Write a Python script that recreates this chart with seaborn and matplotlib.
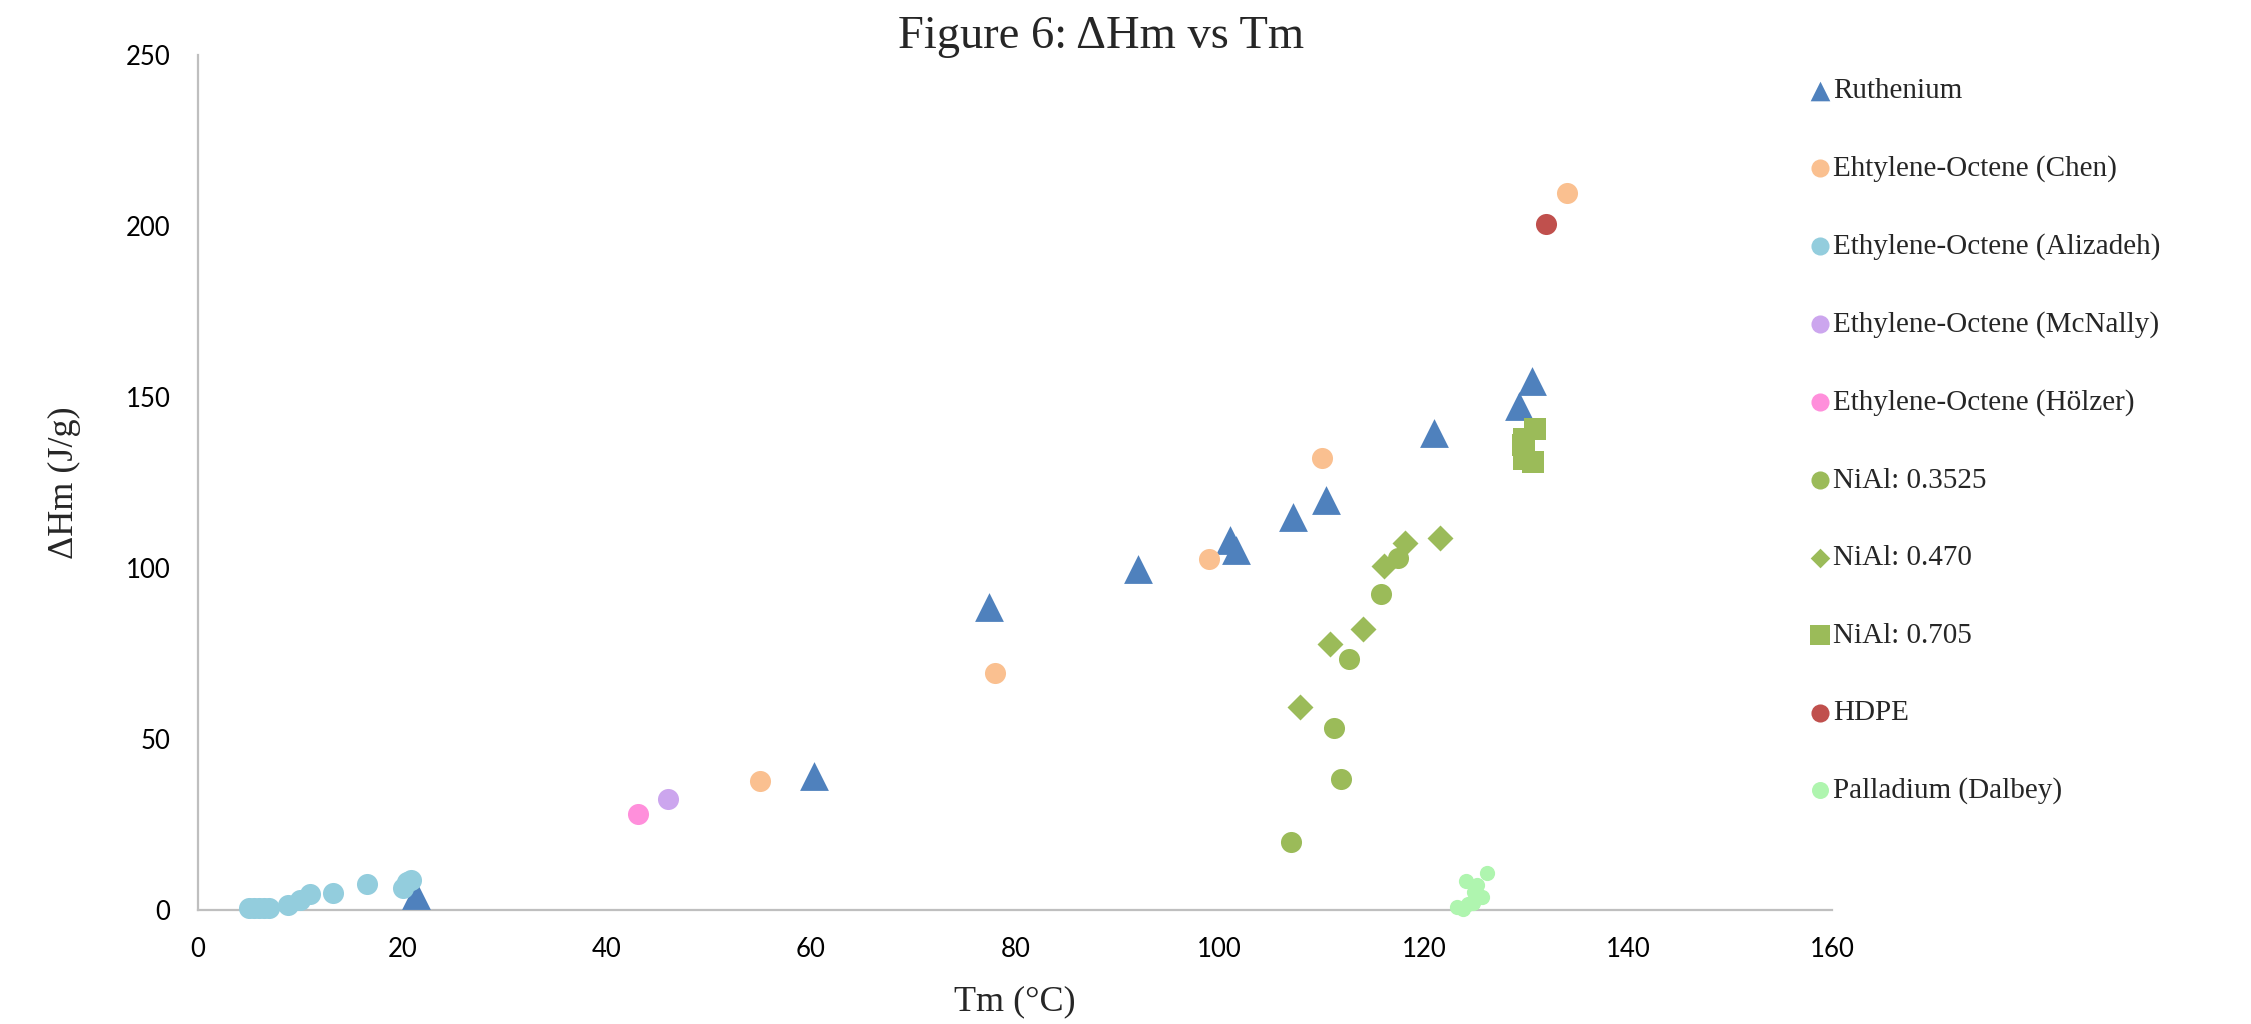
import numpy as np
import pandas as pd
import matplotlib
matplotlib.use('Agg')
import matplotlib.pyplot as plt
import seaborn as sns

sns.set_style('white')
plt.rcParams['font.family'] = ['Liberation Serif', 'DejaVu Serif']

# 数据
ru_x = [21.3, 60.3, 77.4, 92.0, 101.0, 101.6, 107.2, 110.4, 121.0, 129.3, 130.6]
ru_y = [4.4, 39.4, 88.6, 99.9, 108.4, 105.5, 114.9, 119.9, 139.5, 147.5, 154.9]

chen_x = [55.0, 78.0, 99.0, 110.0, 134.0]
chen_y = [37.9, 69.3, 102.6, 132.2, 209.7]

ali_x = [5.0, 5.5, 6.0, 6.5, 6.9, 8.8, 10.0, 11.0, 13.2, 16.5, 20.1, 20.5, 20.8]
ali_y = [0.6, 0.6, 0.7, 0.7, 0.7, 1.7, 2.9, 4.9, 5.2, 7.8, 6.5, 8.4, 8.8]

mcnally_x = [46.0]
mcnally_y = [32.5]

holzer_x = [43.1]
holzer_y = [28.3]

nial1_x = [107.0, 111.2, 111.9, 112.7, 115.8, 117.5]
nial1_y = [20.0, 53.3, 38.3, 73.5, 92.6, 102.9]

nial2_x = [107.9, 110.8, 114.1, 116.1, 118.2, 121.6]
nial2_y = [59.4, 77.9, 82.3, 100.8, 107.3, 108.9]

nial3_x = [129.7, 129.8, 129.8, 130.7, 130.9]
nial3_y = [136.1, 137.9, 132.0, 131.1, 140.8]

hdpe_x = [132.0]
hdpe_y = [200.8]

pd_x = [123.3, 123.8, 124.3, 124.8, 125.7, 124.9, 125.2, 124.1, 126.2]
pd_y = [1.0, 0.5, 1.8, 2.2, 3.8, 5.5, 7.3, 8.5, 11.0]

series = [
    ('Ruthenium', ru_x, ru_y, '^', '#4F81BD', 430, 200),
    ('Ehtylene-Octene (Chen)', chen_x, chen_y, 'o', '#FAC090', 230, 170),
    ('Ethylene-Octene (Alizadeh)', ali_x, ali_y, 'o', '#93CDDD', 230, 170),
    ('Ethylene-Octene (McNally)', mcnally_x, mcnally_y, 'o', '#CCA6EE', 230, 170),
    ('Ethylene-Octene (Hölzer)', holzer_x, holzer_y, 'o', '#FF8FDB', 230, 170),
    ('NiAl: 0.3525', nial1_x, nial1_y, 'o', '#9BBB59', 230, 170),
    ('NiAl: 0.470', nial2_x, nial2_y, 'D', '#9BBB59', 175, 100),
    ('NiAl: 0.705', nial3_x, nial3_y, 's', '#9BBB59', 250, 200),
    ('HDPE', hdpe_x, hdpe_y, 'o', '#C0504D', 230, 170),
    ('Palladium (Dalbey)', pd_x, pd_y, 'o', '#AFF5AF', 120, 150),
]

fig = plt.figure(figsize=(22.51, 10.24), dpi=100)
ax = fig.add_axes([0.088, 0.111, 0.726, 0.835])

for name, xs, ys, mk, col, size, _ in series:
    sns.scatterplot(x=xs, y=ys, marker=mk, color=col, s=size, linewidth=0,
                    label=name, ax=ax, clip_on=False, zorder=3)

ax.set_xlim(0, 160)
ax.set_ylim(0, 250)
ax.set_xticks(range(0, 161, 20))
ax.set_yticks(range(0, 251, 50))
for lab in ax.get_xticklabels() + ax.get_yticklabels():
    lab.set_family(['Lato', 'DejaVu Sans'])
    lab.set_fontsize(18.5)
ax.tick_params(axis='both', length=0, colors='black')
ax.tick_params(axis='x', pad=19)
ax.tick_params(axis='y', pad=20)

for s in ['top', 'right']:
    ax.spines[s].set_visible(False)
for s in ['left', 'bottom']:
    ax.spines[s].set_color('#BFBFBF')
    ax.spines[s].set_linewidth(1.6)

ax.set_xlabel('Tm (°C)', fontsize=26, labelpad=17)
ax.set_ylabel('ΔHm (J/g)', fontsize=26, labelpad=32)

fig.text(0.489, 0.985, 'Figure 6: ΔHm vs Tm', fontsize=33.5, ha='center', va='top')

leg = ax.legend(loc='upper left', bbox_to_anchor=(0.8053, 0.9238),
                bbox_transform=fig.transFigure, frameon=False, fontsize=21,
                borderpad=0, handlelength=0.5, handletextpad=0.2,
                labelspacing=1.75, borderaxespad=0)
for h, item in zip(leg.legend_handles, series):
    h.set_sizes([item[6]])

plt.savefig('out.png', dpi=100)
